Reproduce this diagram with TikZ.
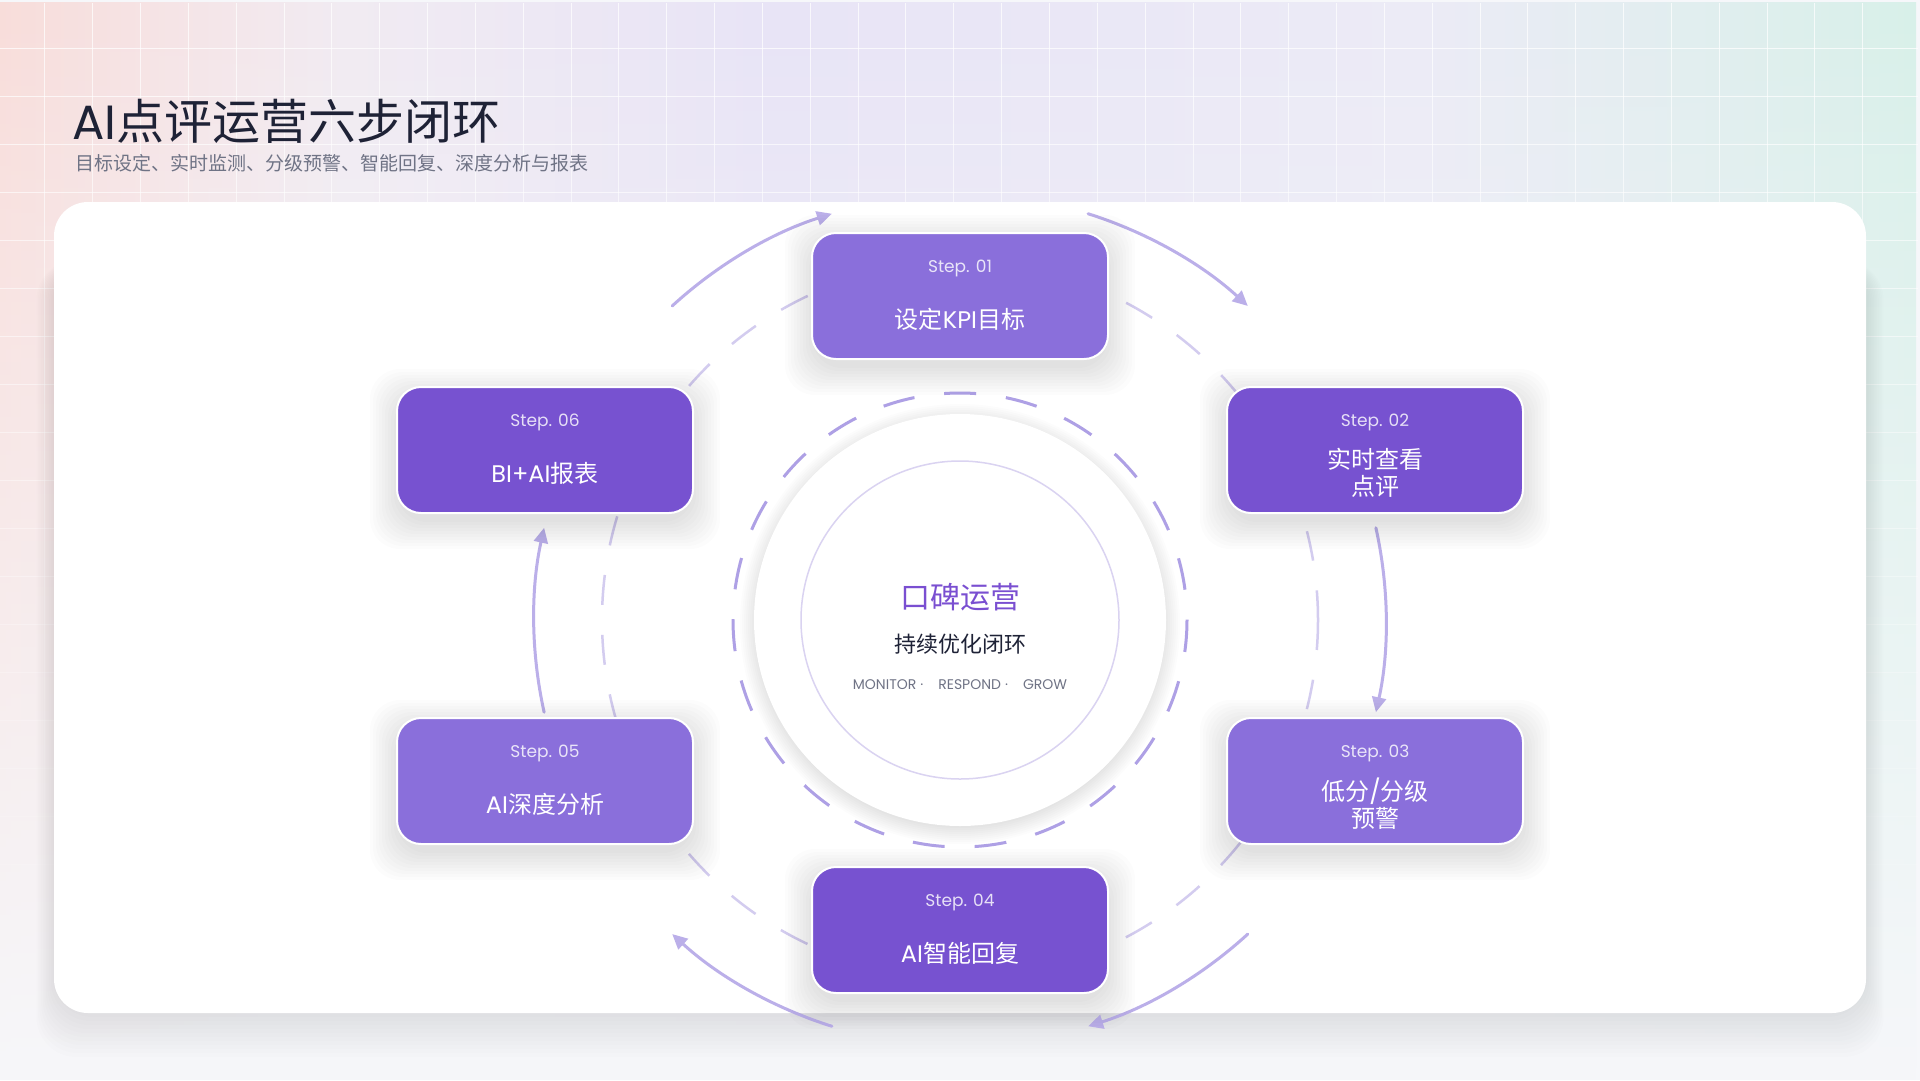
\documentclass[tikz,border=0pt]{standalone}
\usepackage{fontspec}
\setmainfont{Poppins}
\newfontfamily\cjk{Noto Sans CJK SC}
\usetikzlibrary{arrows.meta,calc,fadings}

\newcommand{\zh}[1]{{\cjk #1}}

\definecolor{bgbase}{HTML}{F6F7FA}
\definecolor{bgpink}{HTML}{F9DDDA}
\definecolor{bgmix}{HTML}{F1EBF2}
\definecolor{bglav}{HTML}{E8E4F6}
\definecolor{bglav2}{HTML}{ECEBF6}
\definecolor{bgmint}{HTML}{D8F0E9}
\definecolor{boxlight}{HTML}{8A6FDB}
\definecolor{boxdark}{HTML}{7752D0}
\definecolor{ringin}{HTML}{AEA0E5}
\definecolor{ringout}{HTML}{D3CCEF}
\definecolor{flowcol}{HTML}{BBAFE9}
\definecolor{hubline}{HTML}{DAD3F1}
\definecolor{titlecol}{HTML}{1E2236}
\definecolor{subcol}{HTML}{6F7385}
\definecolor{hubpurple}{HTML}{7A4FD1}

% the path is fitted to the middle half (25bp to 75bp) of the shading
\pgfdeclarehorizontalshading{topband}{100bp}{color(0bp)=(bgpink); color(25bp)=(bgpink); color(34bp)=(bgmix); color(45bp)=(bglav); color(62bp)=(bglav2); color(75bp)=(bgmint); color(100bp)=(bgmint)}
\tikzfading[name=fadedown, top color=transparent!0, middle color=transparent!60, bottom color=transparent!100]

\tikzset{
  stepbox/.style={rectangle, rounded corners=24pt, minimum width=296pt, minimum height=126pt,
    draw=white, line width=2pt},
  lightbox/.style={stepbox, fill=boxlight},
  darkbox/.style={stepbox, fill=boxdark},
  steptag/.style={text=white, text opacity=0.82, font=\fontsize{17}{20}\selectfont, inner sep=0pt},
  stepname/.style={text=white, font=\fontsize{24}{27}\selectfont, align=center, inner sep=0pt},
  gridline/.style={white, opacity=0.75, line width=1pt, path fading=fadedown},
  softshade/.style={black, opacity=0.013},
  flowarrow/.style={flowcol, line width=3pt, line cap=round, -{Triangle[length=15pt,width=14pt]}},
  outerring/.style={ringout, line width=2.5pt, dash pattern=on 30pt off 30pt},
  innerring/.style={ringin, line width=3pt, dash pattern=on 32pt off 30pt},
  hubdisk/.style={circle, fill=white, minimum size=412pt, inner sep=0pt},
}

\begin{document}
\begin{tikzpicture}[x=1pt, y=-1pt]
  \useasboundingbox (0,0) rectangle (1920,1080);
  % background
  \fill[bgbase] (0,0) rectangle (1920,1080);
  \shade[shading=topband, path fading=fadedown] (0,0) rectangle (1920,1080);
  \draw[gridline] \foreach \gx in {48,96,...,1872} {(\gx,0) -- (\gx,1013)};
  \draw[gridline] \foreach \gy in {48,96,...,1008} {(0,\gy) -- (1920,\gy)};

  % title
  \node[anchor=west, inner sep=0pt, text=titlecol, font=\fontsize{48}{48}\selectfont] (title) at (72,121) {AI\zh{点评运营六步闭环}};
  \node[anchor=west, inner sep=0pt, text=subcol, font=\fontsize{19}{19}\selectfont] (subtitle) at (75,163) {\zh{目标设定、实时监测、分级预警、智能回复、深度分析与报表}};

  % card
  \foreach \k in {0,4,...,44}
    \fill[black, opacity=0.008, rounded corners=40pt] (54-\k*0.4,260) rectangle (1866+\k*0.4,1013+\k);
  \fill[white, rounded corners=34pt] (54,202) rectangle (1866,1013);

  % hub
  \coordinate (hubc) at (960,620);
  \foreach \k in {0,2,...,22}
    \fill[softshade, opacity=0.012] ($(hubc)+(0,4)$) circle[radius=198+\k];
  \node[hubdisk] (hub) at (hubc) {};
  \draw[hubline, line width=1.5pt] (hub.center) circle[radius=159];
  \draw[innerring] (hub.center) circle[radius=227];
  \draw[outerring] (hub.center) circle[radius=358];
  \foreach \a in {-120,-60,0,60,120,180}
    \draw[flowarrow] ($(hub.center)+({\a-12.5}:426)$) arc[start angle=\a-12.5, delta angle=25, radius=426];

  \node[inner sep=0pt, text=hubpurple, font=\fontsize{30}{30}\selectfont] (hubname) at (960,597) {\zh{口碑运营}};
  \node[inner sep=0pt, text=titlecol, font=\fontsize{22}{22}\selectfont] (hubsub) at (960,644) {\zh{持续优化闭环}};
  \node[inner sep=0pt, text=subcol, font=\fontsize{14}{14}\selectfont] (hubtags) at (960,685) {MONITOR\hspace{4pt}·\hspace{15pt}RESPOND\hspace{4pt}·\hspace{15pt}GROW};

  % steps
  \coordinate (c01) at (960,296);
  \coordinate (c02) at (1375,450);
  \coordinate (c03) at (1375,781);
  \coordinate (c04) at (960,930);
  \coordinate (c05) at (545,781);
  \coordinate (c06) at (545,450);
  \foreach \c in {c01,c02,c03,c04,c05,c06}
    \foreach \k in {0,3,...,27}
      \fill[softshade, rounded corners=30pt] ($(\c)+(-148-\k,-54-\k)$) rectangle ($(\c)+(148+\k,72+\k)$);

  \node[lightbox] (box01) at (c01) {};
  \node[darkbox] (box02) at (c02) {};
  \node[lightbox] (box03) at (c03) {};
  \node[darkbox] (box04) at (c04) {};
  \node[lightbox] (box05) at (c05) {};
  \node[darkbox] (box06) at (c06) {};

  \node[steptag] (tag01) at ([yshift=28pt]box01.center) {Step. 01};
  \node[steptag] (tag02) at ([yshift=28pt]box02.center) {Step. 02};
  \node[steptag] (tag03) at ([yshift=28pt]box03.center) {Step. 03};
  \node[steptag] (tag04) at ([yshift=28pt]box04.center) {Step. 04};
  \node[steptag] (tag05) at ([yshift=28pt]box05.center) {Step. 05};
  \node[steptag] (tag06) at ([yshift=28pt]box06.center) {Step. 06};

  \node[stepname] (name01) at ([yshift=-23pt]box01.center) {\zh{设定}KPI\zh{目标}};
  \node[stepname] (name02) at ([yshift=-23pt]box02.center) {\zh{实时查看}\\\zh{点评}};
  \node[stepname] (name03) at ([yshift=-23pt]box03.center) {\zh{低分}/\zh{分级}\\\zh{预警}};
  \node[stepname] (name04) at ([yshift=-23pt]box04.center) {AI\zh{智能回复}};
  \node[stepname] (name05) at ([yshift=-23pt]box05.center) {AI\zh{深度分析}};
  \node[stepname] (name06) at ([yshift=-23pt]box06.center) {BI+AI\zh{报表}};
\end{tikzpicture}
\end{document}
